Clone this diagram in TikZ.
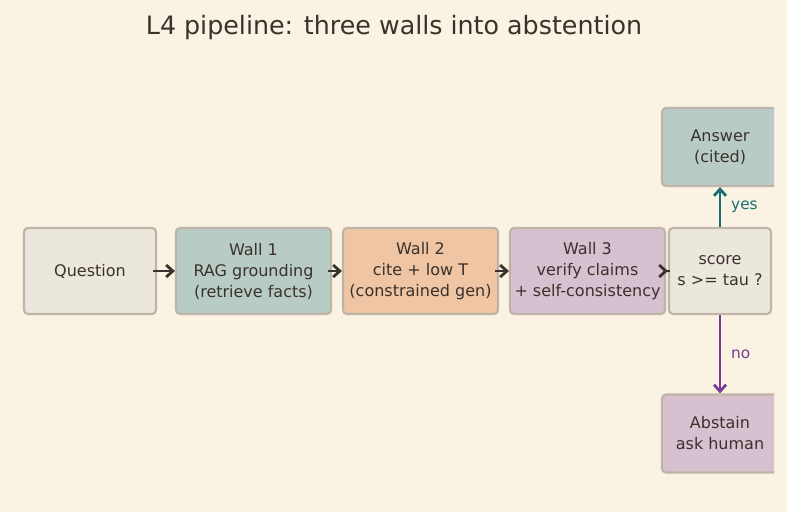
\documentclass[tikz,border=0pt]{standalone}
\usepackage{fontspec}
\setmainfont{DejaVu Sans}
\usetikzlibrary{arrows.meta}
\definecolor{bgcream}{HTML}{FAF3E3}
\definecolor{inkbrown}{HTML}{3A322C}
\definecolor{edgegray}{HTML}{BEB5A8}
\definecolor{neutralfill}{HTML}{ECE7DC}
\definecolor{tealfill}{HTML}{B8CCC5}
\definecolor{peachfill}{HTML}{EFC5A3}
\definecolor{mauvefill}{HTML}{D7C0CF}
\definecolor{yesteal}{HTML}{1B6F72}
\definecolor{nopurple}{HTML}{7A3B92}
\begin{document}
\begin{tikzpicture}[
    x=0.75pt, y=-0.75pt,
    box/.style={draw=edgegray,line width=1.6pt,rounded corners=3pt,align=center,
        text=inkbrown,font=\fontsize{12}{15.75}\selectfont,inner sep=0pt,
        minimum height=64.5pt},
    wall/.style={box,minimum width=116.25pt},
    exit/.style={box,minimum width=87pt,minimum height=58.5pt},
    flow/.style={-{Straight Barb[length=5pt,width=9pt]},line width=2.1pt,color=inkbrown,
        shorten <=-3pt},
    branch/.style={-{Straight Barb[length=5pt,width=9pt]},line width=2.1pt},
    tag/.style={font=\fontsize{11.5}{13}\selectfont}
]
\fill[bgcream] (0,0) rectangle (787,512);
\useasboundingbox (0,0) rectangle (787,512);

\node[text=inkbrown,font=\fontsize{19}{22}\selectfont] (title) at (394,27.5)
    {L4 pipeline: three walls into abstention};

\begin{scope}
\clip (0,0) rectangle (774,512);
\node[box,fill=neutralfill,minimum width=99pt] (Q)  at (90,271)    {Question};
\node[wall,fill=tealfill]                      (W1) at (253.5,271) {Wall 1\\RAG grounding\\(retrieve facts)};
\node[wall,fill=peachfill]                     (W2) at (420.5,271) {Wall 2\\cite + low T\\(constrained gen)};
\node[wall,fill=mauvefill]                     (W3) at (587.5,271) {Wall 3\\verify claims\\+ self-consistency};
\node[box,fill=neutralfill,minimum width=76.5pt] (S) at (720,271)  {score\\s >= tau ?};
\node[exit,fill=tealfill]                      (A)  at (720,147)   {Answer\\(cited)};
\node[exit,fill=mauvefill]                     (X)  at (720,433.5) {Abstain\\ask human};
\end{scope}

\draw[flow] (Q) -- (W1);
\draw[flow] (W1) -- (W2);
\draw[flow] (W2) -- (W3);
\draw[flow] (W3) -- (S);
\draw[branch,yesteal] (S) -- node[tag,right=4pt] {yes} (A);
\draw[branch,nopurple] (S) -- node[tag,right=4pt,pos=0.5] {no} (X);
\end{tikzpicture}
\end{document}
